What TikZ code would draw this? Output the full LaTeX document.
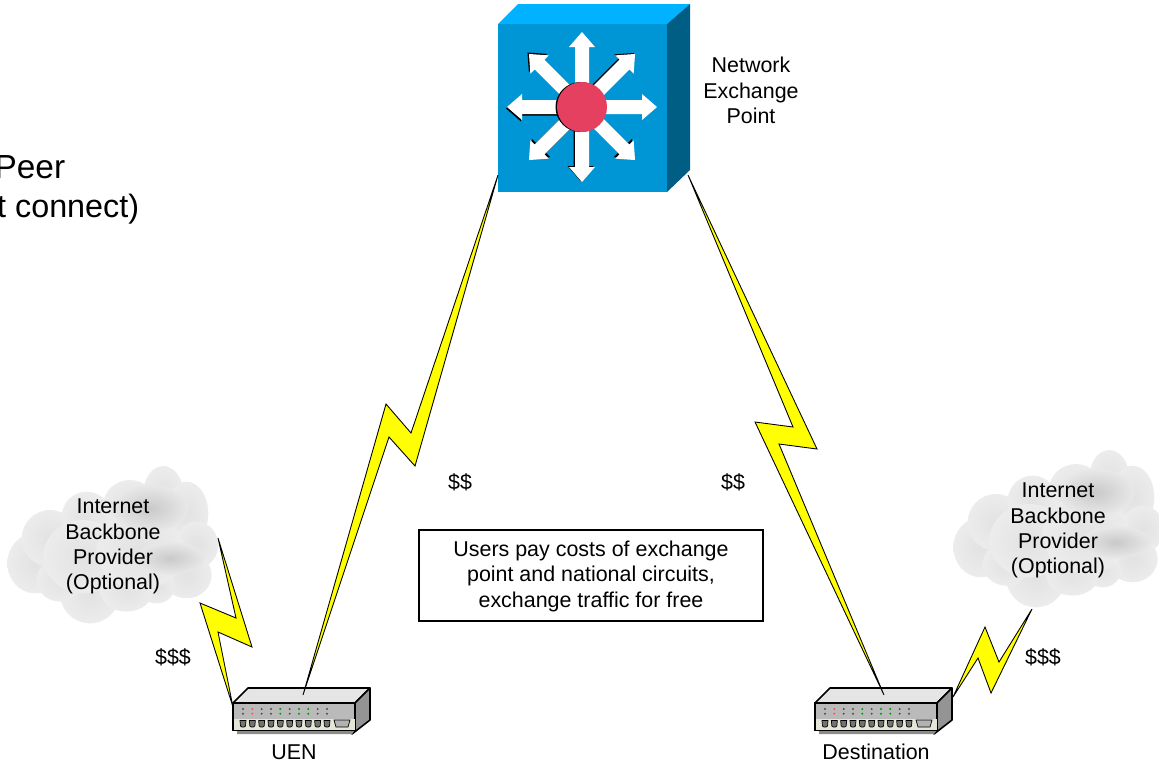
\documentclass[tikz,border=0pt]{standalone}
\usepackage{fontspec}
\setmainfont{Liberation Sans}
\usetikzlibrary{positioning,calc}
\definecolor{hubfront}{RGB}{0,150,214}
\definecolor{hubtop}{RGB}{0,178,255}
\definecolor{hubside}{RGB}{0,94,133}
\definecolor{hubred}{RGB}{230,64,96}
\definecolor{cloudin}{RGB}{226,226,226}
\definecolor{cloudout}{RGB}{236,236,236}
\definecolor{bolt}{RGB}{255,255,0}
\tikzset{>=latex}
\tikzstyle{boltshape}=[draw=black,fill=bolt,line width=0.5pt,line join=miter]
\tikzstyle{lbl}=[font=\fontsize{12.2}{14.4}\selectfont,align=center,inner sep=0pt]
\tikzstyle{puff}=[inner color=cloudin,outer color=cloudout]
\tikzstyle{darkpuff}=[inner color=black!21,outer color=black!9]
\tikzset{
  router/.pic={
    % top, side and lower strip
    \draw[line width=0.9pt,fill=black!10,line join=round] (233,703) -- (248,688) -- (370,688) -- (355,703) -- cycle;
    \draw[line width=0.9pt,fill=black!42,line join=round] (355,703) -- (370,688) -- (370,720) -- (352,734) -- (355,730) -- cycle;
    \fill[black!45] (237,730) -- (355,730) -- (352,734) -- (237,734) -- cycle;
    \draw[line width=0.9pt,fill=black!27] (233,703) rectangle (355,730);
    \draw[fill={rgb,255:red,230;green,230;blue,216},draw=none] (234,719) rectangle (354.5,729.5);
    % leds and ports
    \foreach \i/\c in {0/black!70,1/red!70,2/black!70,3/black!70,4/green!60!black,5/black!70,6/green!60!black,7/green!60!black,8/black!70,9/black!70} {
      \fill[\c] (243+\i*9.33,709) circle (1.1);
      \fill[\c] (243+\i*9.33,713.7) circle (1.1);
      \draw[fill=black!55,line width=0.4pt] (240+\i*9.33,720.5) -- (246+\i*9.33,720.5) -- (245.5+\i*9.33,726) -- (244+\i*9.33,727) -- (242+\i*9.33,727) -- (240.5+\i*9.33,726) -- cycle;
    }
    \draw[fill=black!30,line width=0.4pt] (334,720) -- (350,720) -- (348,727) -- (336,727) -- cycle;
  },
  cloudpic/.pic={
    \begin{scope}[scale=0.3333]
    \foreach \cx/\cy/\rx/\ry in {105/340/83/90,150/265/85/85,260/200/75/75,390/165/80/75,490/130/60/82,560/190/65/95,590/285/65/70,560/375/75/70,470/410/55/50,270/430/90/90,180/390/70/65,380/420/80/65,250/320/120/110,420/300/130/120} {
      \shade[puff] (\cx,\cy) ellipse ({\rx} and {\ry});
    }
    \foreach \cx/\cy/\rx/\ry in {450/175/115/70,510/325/105/48} {
      \shade[darkpuff] (\cx,\cy) ellipse ({\rx} and {\ry});
    }
    \end{scope}
  }
}
\begin{document}
\begin{tikzpicture}[x=0.02cm,y=-0.02cm]
    \useasboundingbox (0,0) rectangle (1159,762);

    % clouds
    \begin{scope}
    \clip (0,0) rectangle (1159,762);
    \pic at (0,450) {cloudpic};
    \pic at (946,434) {cloudpic};
    \end{scope}

    % switch in the middle
    \fill[hubtop] (498,24) -- (518,4) -- (690,4) -- (667,24) -- cycle;
    \fill[hubside] (667,24) -- (690,4) -- (690,170) -- (667,192) -- cycle;
    \fill[hubfront] (498,24) rectangle (667,192);
    \foreach \a/\sx/\sy in {90/-1.5/-1,180/-1/1.5,135/1.5/-1.5,45/-1.5/-1.5,225/-1.5/-1.5,315/-1/-1} {
      \fill[black,shift={(582+\sx,107+\sy)},rotate=-\a] (0,-7) -- (60,-7) -- (60,-13) -- (75,0) -- (60,13) -- (60,7) -- (0,7) -- cycle;
    }
    \foreach \a in {0,45,...,315} {
      \fill[white,shift={(582,107)},rotate=-\a] (0,-7) -- (60,-7) -- (60,-13) -- (75,0) -- (60,13) -- (60,7) -- (0,7) -- cycle;
    }
    \fill[black] (580.5,107) circle (25);
    \fill[hubred] (582,107) circle (25);

    % routers
    \pic at (0,0) {router};
    \pic at (582,0) {router};

    % ends of the links
    \coordinate (hubL) at (498,175);
    \coordinate (hubR) at (688,175);
    \coordinate (uenT) at (303,695);
    \coordinate (uenL) at (233,707);
    \coordinate (dstT) at (884,695);
    \coordinate (dstR) at (953,697);
    \coordinate (cloudAend) at (218,538);
    \coordinate (cloudBend) at (1032,609);

    % links
    \draw[boltshape] (hubL) -- (411,433) -- (386,404) -- (uenT) -- (389,437) -- (415,466) -- cycle;
    \draw[boltshape] (hubR) -- (817,449) -- (779,444) -- (dstT) -- (755,422) -- (793,427) -- cycle;
    \draw[boltshape] (cloudAend) -- (236,618) -- (200,603) -- (uenL) -- (218,632) -- (252,647) -- cycle;
    \draw[boltshape] (cloudBend) -- (999,662) -- (985,627) -- (dstR) -- (978,658) -- (991,693) -- cycle;

    % labels
    \node[lbl] (cloudA) at (113,546.5) {Internet\\Backbone\\Provider\\(Optional)};
    \node[lbl] (cloudB) at (1058,530.5) {Internet\\Backbone\\Provider\\(Optional)};
    \node[lbl] (hubname) at (751,90.5) {Network\\Exchange\\Point};
    \node[lbl] (costA) at (460,482) {\$\$};
    \node[lbl] (costB) at (733,482) {\$\$};
    \node[lbl] (costC) at (173,657) {\$\$\$};
    \node[lbl] (costD) at (1043,657) {\$\$\$};
    \node[lbl] (uen) at (294,752) {UEN};
    \node[lbl] (dst) at (876,752) {Destination};
    \node[lbl,draw,line width=0.7pt,minimum width=6.88cm,minimum height=1.82cm] (note) at (591,575.5) {\rule{0pt}{9.9pt}Users pay costs of exchange\\point and national circuits,\\exchange traffic for free};
    \node[anchor=east,inner sep=0pt,font=\fontsize{19}{22}\selectfont] (peer) at (65.5,167) {Peer};
    \node[anchor=east,inner sep=0pt,font=\fontsize{18.4}{22}\selectfont] (conn) at (139.5,209) {t connect)};
\end{tikzpicture}
\end{document}
